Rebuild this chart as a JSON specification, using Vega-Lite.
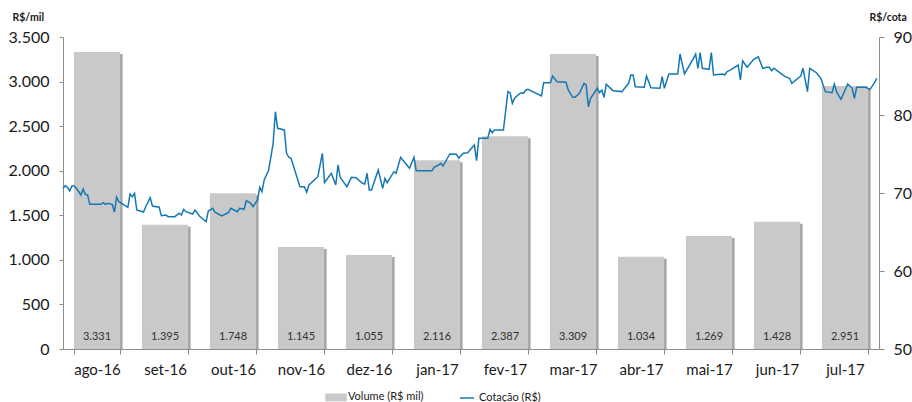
{
  "$schema": "https://vega.github.io/schema/vega-lite/v6.json",
  "width": 816,
  "height": 312,
  "autosize": {"type": "none"},
  "padding": {"left": 63, "top": 37, "right": 33, "bottom": 53},
  "background": "white",
  "config": {
    "locale": {"number": {"decimal": ",", "thousands": ".", "grouping": [3], "currency": ["R$", ""]}},
    "font": "Lato",
    "view": {"stroke": null},
    "axis": {"domainColor": "#8c8c8c", "tickColor": "#8c8c8c", "labelColor": "#1a1a1a", "grid": false, "labelFont": "Lato", "titleFont": "Lato"}
  },
  "datasets": {
    "vol": [
      {"month": "ago-16", "volume": 3331},
      {"month": "set-16", "volume": 1395},
      {"month": "out-16", "volume": 1748},
      {"month": "nov-16", "volume": 1145},
      {"month": "dez-16", "volume": 1055},
      {"month": "jan-17", "volume": 2116},
      {"month": "fev-17", "volume": 2387},
      {"month": "mar-17", "volume": 3309},
      {"month": "abr-17", "volume": 1034},
      {"month": "mai-17", "volume": 1269},
      {"month": "jun-17", "volume": 1428},
      {"month": "jul-17", "volume": 2951}
    ],
    "price": [
      {"date": "2016-08-01", "price": 70.60},
      {"date": "2016-08-02", "price": 70.94},
      {"date": "2016-08-03", "price": 70.73},
      {"date": "2016-08-04", "price": 70.26},
      {"date": "2016-08-05", "price": 70.90},
      {"date": "2016-08-06", "price": 70.90},
      {"date": "2016-08-07", "price": 70.60},
      {"date": "2016-08-09", "price": 69.74},
      {"date": "2016-08-10", "price": 70.51},
      {"date": "2016-08-11", "price": 69.83},
      {"date": "2016-08-12", "price": 69.74},
      {"date": "2016-08-13", "price": 68.55},
      {"date": "2016-08-18", "price": 68.55},
      {"date": "2016-08-19", "price": 68.76},
      {"date": "2016-08-20", "price": 68.55},
      {"date": "2016-08-21", "price": 68.68},
      {"date": "2016-08-23", "price": 68.55},
      {"date": "2016-08-24", "price": 67.56},
      {"date": "2016-08-25", "price": 69.45},
      {"date": "2016-08-26", "price": 68.88},
      {"date": "2016-08-30", "price": 68.17},
      {"date": "2016-08-31", "price": 69.87},
      {"date": "2016-09-01", "price": 69.53},
      {"date": "2016-09-02", "price": 69.96},
      {"date": "2016-09-03", "price": 67.82},
      {"date": "2016-09-06", "price": 67.56},
      {"date": "2016-09-07", "price": 68.24},
      {"date": "2016-09-09", "price": 69.40},
      {"date": "2016-09-10", "price": 68.33},
      {"date": "2016-09-13", "price": 68.17},
      {"date": "2016-09-14", "price": 67.09},
      {"date": "2016-09-16", "price": 67.18},
      {"date": "2016-09-17", "price": 66.96},
      {"date": "2016-09-20", "price": 66.96},
      {"date": "2016-09-22", "price": 67.40},
      {"date": "2016-09-23", "price": 67.18},
      {"date": "2016-09-24", "price": 67.91},
      {"date": "2016-09-25", "price": 67.60},
      {"date": "2016-09-28", "price": 67.31},
      {"date": "2016-09-29", "price": 67.82},
      {"date": "2016-09-30", "price": 67.47},
      {"date": "2016-10-01", "price": 67.05},
      {"date": "2016-10-04", "price": 66.32},
      {"date": "2016-10-05", "price": 67.69},
      {"date": "2016-10-07", "price": 68.04},
      {"date": "2016-10-08", "price": 67.53},
      {"date": "2016-10-11", "price": 67.05},
      {"date": "2016-10-14", "price": 67.47},
      {"date": "2016-10-15", "price": 68.04},
      {"date": "2016-10-18", "price": 67.60},
      {"date": "2016-10-19", "price": 68.04},
      {"date": "2016-10-21", "price": 67.91},
      {"date": "2016-10-22", "price": 69.01},
      {"date": "2016-10-24", "price": 68.68},
      {"date": "2016-10-25", "price": 68.24},
      {"date": "2016-10-27", "price": 69.10},
      {"date": "2016-10-28", "price": 70.73},
      {"date": "2016-10-29", "price": 70.17},
      {"date": "2016-10-30", "price": 71.67},
      {"date": "2016-11-01", "price": 72.95},
      {"date": "2016-11-03", "price": 76.37},
      {"date": "2016-11-04", "price": 80.42},
      {"date": "2016-11-05", "price": 78.29},
      {"date": "2016-11-08", "price": 78.08},
      {"date": "2016-11-09", "price": 75.09},
      {"date": "2016-11-10", "price": 74.58},
      {"date": "2016-11-11", "price": 74.45},
      {"date": "2016-11-15", "price": 70.81},
      {"date": "2016-11-17", "price": 70.81},
      {"date": "2016-11-18", "price": 70.09},
      {"date": "2016-11-19", "price": 71.03},
      {"date": "2016-11-23", "price": 72.09},
      {"date": "2016-11-25", "price": 75.09},
      {"date": "2016-11-26", "price": 71.32},
      {"date": "2016-11-29", "price": 72.53},
      {"date": "2016-12-01", "price": 71.03},
      {"date": "2016-12-02", "price": 73.59},
      {"date": "2016-12-03", "price": 72.01},
      {"date": "2016-12-06", "price": 70.81},
      {"date": "2016-12-08", "price": 72.01},
      {"date": "2016-12-10", "price": 71.96},
      {"date": "2016-12-13", "price": 71.24},
      {"date": "2016-12-14", "price": 71.15},
      {"date": "2016-12-15", "price": 72.53},
      {"date": "2016-12-16", "price": 70.38},
      {"date": "2016-12-17", "price": 70.38},
      {"date": "2016-12-20", "price": 72.95},
      {"date": "2016-12-22", "price": 70.60},
      {"date": "2016-12-23", "price": 71.88},
      {"date": "2016-12-24", "price": 71.32},
      {"date": "2016-12-27", "price": 72.73},
      {"date": "2016-12-28", "price": 72.53},
      {"date": "2016-12-30", "price": 74.58},
      {"date": "2017-01-03", "price": 73.17},
      {"date": "2017-01-05", "price": 74.58},
      {"date": "2017-01-06", "price": 72.86},
      {"date": "2017-01-13", "price": 72.86},
      {"date": "2017-01-14", "price": 73.29},
      {"date": "2017-01-16", "price": 73.59},
      {"date": "2017-01-17", "price": 73.81},
      {"date": "2017-01-18", "price": 73.46},
      {"date": "2017-01-21", "price": 75.00},
      {"date": "2017-01-24", "price": 74.96},
      {"date": "2017-01-25", "price": 74.45},
      {"date": "2017-01-27", "price": 75.09},
      {"date": "2017-01-29", "price": 75.17},
      {"date": "2017-02-01", "price": 76.15},
      {"date": "2017-02-02", "price": 74.14},
      {"date": "2017-02-03", "price": 77.01},
      {"date": "2017-02-07", "price": 77.01},
      {"date": "2017-02-08", "price": 78.17},
      {"date": "2017-02-09", "price": 77.73},
      {"date": "2017-02-10", "price": 78.08},
      {"date": "2017-02-14", "price": 78.08},
      {"date": "2017-02-16", "price": 82.99},
      {"date": "2017-02-17", "price": 82.86},
      {"date": "2017-02-18", "price": 81.50},
      {"date": "2017-02-19", "price": 82.14},
      {"date": "2017-02-21", "price": 82.69},
      {"date": "2017-02-22", "price": 82.86},
      {"date": "2017-02-23", "price": 82.78},
      {"date": "2017-02-24", "price": 83.21},
      {"date": "2017-02-25", "price": 83.29},
      {"date": "2017-03-03", "price": 82.44},
      {"date": "2017-03-04", "price": 84.14},
      {"date": "2017-03-07", "price": 84.14},
      {"date": "2017-03-08", "price": 85.00},
      {"date": "2017-03-10", "price": 84.27},
      {"date": "2017-03-14", "price": 84.19},
      {"date": "2017-03-15", "price": 83.21},
      {"date": "2017-03-17", "price": 82.27},
      {"date": "2017-03-18", "price": 82.27},
      {"date": "2017-03-20", "price": 82.78},
      {"date": "2017-03-22", "price": 84.06},
      {"date": "2017-03-23", "price": 83.85},
      {"date": "2017-03-24", "price": 81.06},
      {"date": "2017-03-25", "price": 82.14},
      {"date": "2017-03-28", "price": 83.42},
      {"date": "2017-03-29", "price": 82.86},
      {"date": "2017-03-30", "price": 83.21},
      {"date": "2017-03-31", "price": 82.27},
      {"date": "2017-04-01", "price": 83.94},
      {"date": "2017-04-04", "price": 83.12},
      {"date": "2017-04-08", "price": 83.00},
      {"date": "2017-04-11", "price": 84.06},
      {"date": "2017-04-12", "price": 85.13},
      {"date": "2017-04-13", "price": 85.13},
      {"date": "2017-04-14", "price": 83.63},
      {"date": "2017-04-18", "price": 83.55},
      {"date": "2017-04-19", "price": 85.00},
      {"date": "2017-04-21", "price": 83.50},
      {"date": "2017-04-25", "price": 83.42},
      {"date": "2017-04-26", "price": 84.91},
      {"date": "2017-04-27", "price": 83.42},
      {"date": "2017-04-29", "price": 85.26},
      {"date": "2017-05-03", "price": 85.26},
      {"date": "2017-05-04", "price": 87.82},
      {"date": "2017-05-06", "price": 85.26},
      {"date": "2017-05-10", "price": 87.27},
      {"date": "2017-05-11", "price": 87.82},
      {"date": "2017-05-12", "price": 85.99},
      {"date": "2017-05-13", "price": 87.99},
      {"date": "2017-05-14", "price": 85.99},
      {"date": "2017-05-17", "price": 85.86},
      {"date": "2017-05-18", "price": 87.99},
      {"date": "2017-05-19", "price": 85.13},
      {"date": "2017-05-23", "price": 85.26},
      {"date": "2017-05-24", "price": 85.13},
      {"date": "2017-05-25", "price": 85.55},
      {"date": "2017-05-27", "price": 85.86},
      {"date": "2017-05-30", "price": 86.41},
      {"date": "2017-05-31", "price": 84.49},
      {"date": "2017-06-01", "price": 86.96},
      {"date": "2017-06-03", "price": 86.12},
      {"date": "2017-06-06", "price": 87.14},
      {"date": "2017-06-08", "price": 87.47},
      {"date": "2017-06-10", "price": 85.99},
      {"date": "2017-06-12", "price": 86.12},
      {"date": "2017-06-13", "price": 86.12},
      {"date": "2017-06-14", "price": 85.68},
      {"date": "2017-06-15", "price": 85.99},
      {"date": "2017-06-17", "price": 85.55},
      {"date": "2017-06-20", "price": 84.91},
      {"date": "2017-06-22", "price": 84.71},
      {"date": "2017-06-23", "price": 84.06},
      {"date": "2017-06-27", "price": 85.00},
      {"date": "2017-06-28", "price": 85.99},
      {"date": "2017-06-30", "price": 82.99},
      {"date": "2017-07-01", "price": 85.99},
      {"date": "2017-07-04", "price": 85.42},
      {"date": "2017-07-06", "price": 84.71},
      {"date": "2017-07-08", "price": 82.99},
      {"date": "2017-07-11", "price": 82.86},
      {"date": "2017-07-12", "price": 83.97},
      {"date": "2017-07-13", "price": 82.99},
      {"date": "2017-07-15", "price": 82.01},
      {"date": "2017-07-18", "price": 83.97},
      {"date": "2017-07-20", "price": 83.42},
      {"date": "2017-07-21", "price": 82.14},
      {"date": "2017-07-22", "price": 83.55},
      {"date": "2017-07-26", "price": 83.55},
      {"date": "2017-07-28", "price": 83.29},
      {"date": "2017-07-30", "price": 84.14},
      {"date": "2017-07-31", "price": 84.71}
    ]
  },
  "layer": [
    {
      "data": {"name": "vol"},
      "encoding": {
        "x": {
          "field": "month", "type": "nominal", "sort": null,
          "scale": {"paddingInner": 0.32, "paddingOuter": 0.16},
          "axis": {"title": null, "labelFontSize": 15, "labelPadding": 8, "tickSize": 5, "tickBand": "extent", "labelAngle": 0}
        },
        "y": {
          "field": "volume", "type": "quantitative",
          "scale": {"domain": [0, 3500]},
          "axis": {
            "title": "R$/mil", "titleAngle": 0, "titleX": -51, "titleY": -20, "titleAlign": "left", "titleBaseline": "middle",
            "titleFontSize": 10.5, "titleFontWeight": "bold", "titleColor": "#1a1a1a",
            "values": [0, 500, 1000, 1500, 2000, 2500, 3000, 3500], "format": ",.0f",
            "labelFontSize": 16, "tickSize": 4, "labelPadding": 10
          }
        }
      },
      "layer": [
        {"mark": {"type": "bar", "color": "#a6a6a6", "xOffset": 2.5, "yOffset": 2, "clip": true}},
        {
          "mark": {"type": "bar"},
          "encoding": {
            "color": {
              "datum": "Volume (R$ mil)",
              "scale": {"domain": ["Volume (R$ mil)", "Cotação (R$)"], "range": ["#c9c9c9", "#1478b4"]},
              "legend": {
                "orient": "none", "legendX": 265, "legendY": 352, "direction": "horizontal", "title": null, "padding": 0,
                "labelFontSize": 11, "labelColor": "#1a1a1a", "labelFont": "Lato", "symbolSize": 196, "labelOffset": 4, "columnPadding": 33,
                "encode": {
                  "symbols": {
                    "update": {
                      "shape": {"signal": "datum.value === 'Cotação (R$)' ? 'M-1,0H1' : 'M-1.43,-0.46H1.43V0.46H-1.43Z'"},
                      "fill": {"signal": "datum.value === 'Cotação (R$)' ? 'transparent' : '#c9c9c9'"},
                      "stroke": {"signal": "datum.value === 'Cotação (R$)' ? '#1478b4' : 'transparent'"},
                      "strokeWidth": {"value": 1.5},
                      "opacity": {"value": 1}
                    }
                  }
                }
              }
            }
          }
        },
        {
          "mark": {"type": "text", "baseline": "bottom", "dy": -7, "fontSize": 11, "color": "#333333", "font": "Lato"},
          "encoding": {
            "y": {"datum": 0},
            "text": {"field": "volume", "type": "quantitative", "format": ","}
          }
        }
      ]
    },
    {
      "data": {"name": "price"},
      "mark": {"type": "line", "strokeWidth": 1.5},
      "encoding": {
        "x": {
          "field": "date", "type": "temporal",
          "scale": {"type": "utc", "domain": [{"year": 2016, "month": 8, "date": 1, "utc": true}, {"year": 2017, "month": 8, "date": 1, "utc": true}]},
          "axis": null
        },
        "y": {
          "field": "price", "type": "quantitative",
          "scale": {"domain": [50, 90]},
          "axis": {
            "orient": "right", "title": "R$/cota", "titleAngle": 0, "titleX": -10, "titleY": -20, "titleAlign": "left", "titleBaseline": "middle",
            "titleFontSize": 10.5, "titleFontWeight": "bold", "titleColor": "#1a1a1a",
            "values": [50, 60, 70, 80, 90], "labelFontSize": 16, "tickSize": 5, "labelPadding": 9
          }
        },
        "color": {"datum": "Cotação (R$)"}
      }
    }
  ],
  "resolve": {"scale": {"x": "independent", "y": "independent"}}
}
